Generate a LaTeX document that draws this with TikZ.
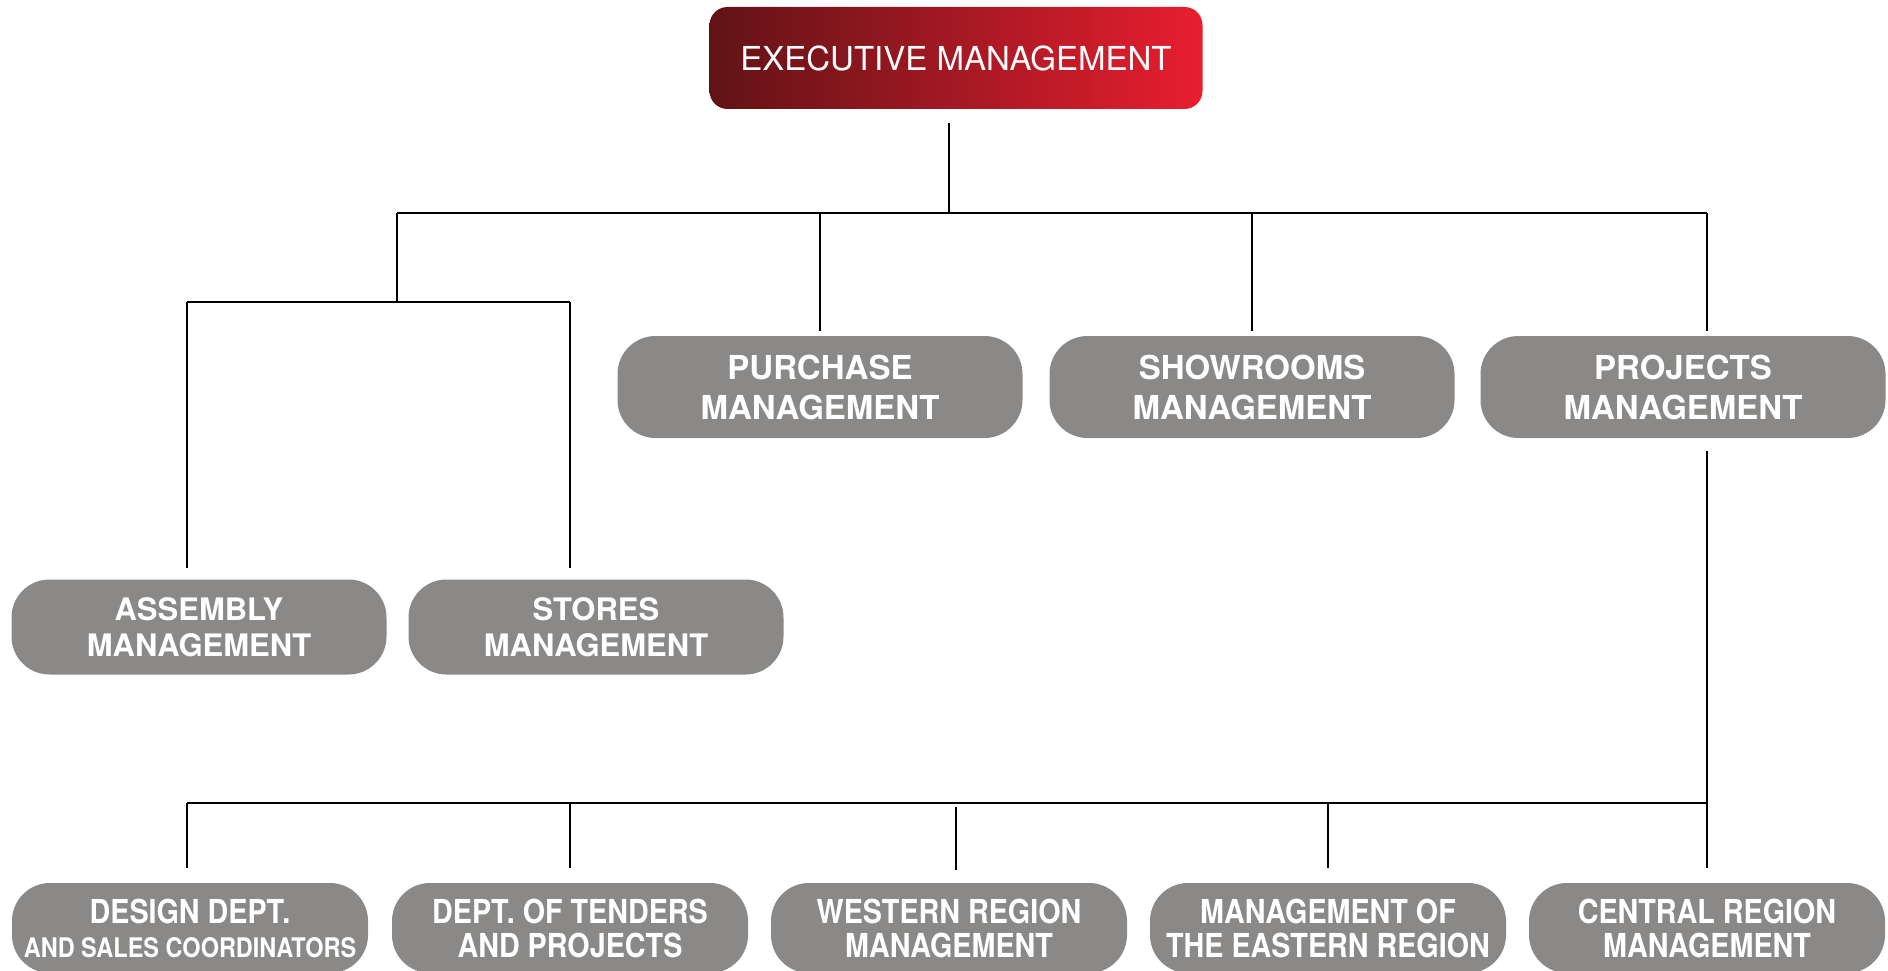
\documentclass[tikz,border=0pt]{standalone}
\usepackage{fontspec}
\setmainfont{TeX Gyre Heros}
\newfontfamily\condfont[FakeStretch=0.87]{TeX Gyre Heros}
\usepackage{tikz}
\definecolor{org_gray}{RGB}{138, 137, 135}
\definecolor{exec_dark}{RGB}{96, 19, 22}
\definecolor{exec_red}{RGB}{232, 30, 48}
\tikzstyle{ex}=[rectangle,rounded corners=18pt,left color=exec_dark,right color=exec_red,
  draw=none,text=white,inner sep=0pt,minimum width=493pt,minimum height=102pt,
  font=\fontsize{33}{40}\selectfont]
\tikzstyle{mg}=[rectangle,rounded corners=38pt,fill=org_gray,draw=none,text=white,
  inner sep=0pt,minimum width=405pt,minimum height=102pt,align=center,
  font=\fontsize{33}{40}\selectfont\bfseries]
\tikzstyle{sm}=[mg,minimum width=375pt,minimum height=95pt,
  font=\fontsize{31}{36}\selectfont\bfseries]
\tikzstyle{dp}=[mg,minimum width=356pt,minimum height=90pt,
  font=\condfont\fontsize{33}{34}\selectfont\bfseries]
\tikzstyle{none}=[inner sep=0pt,minimum size=0pt]
\tikzstyle{ln}=[line width=2.2pt,black]

\begin{document}
\begin{tikzpicture}[x=1pt, y=-1pt]
    \useasboundingbox (0, 0) rectangle (1888, 971);
    \node [style=ex] (0) at (956, 58) {EXECUTIVE MANAGEMENT};
    \node [style=mg] (1) at (820, 387) {PURCHASE\\MANAGEMENT};
    \node [style=mg] (2) at (1252, 387) {SHOWROOMS\\MANAGEMENT};
    \node [style=mg] (3) at (1683, 387) {PROJECTS\\MANAGEMENT};
    \node [style=sm] (4) at (199, 627) {ASSEMBLY\\MANAGEMENT};
    \node [style=sm] (5) at (596, 627) {STORES\\MANAGEMENT};
    \node [style=dp] (6) at (190, 928) {DESIGN DEPT.\\\fontsize{27}{31}\selectfont AND SALES COORDINATORS};
    \node [style=dp] (7) at (570, 928) {DEPT. OF TENDERS\\AND PROJECTS};
    \node [style=dp] (8) at (949, 928) {WESTERN REGION\\MANAGEMENT};
    \node [style=dp] (9) at (1328, 928) {MANAGEMENT OF\\THE EASTERN REGION};
    \node [style=dp] (10) at (1707, 928) {CENTRAL REGION\\MANAGEMENT};
    % junctions
    \node [style=none] (11) at (949, 123) {};
    \node [style=none] (12) at (949, 213) {};
    \node [style=none] (13) at (397, 213) {};
    \node [style=none] (14) at (1707, 213) {};
    \node [style=none] (15) at (820, 213) {};
    \node [style=none] (16) at (820, 331) {};
    \node [style=none] (17) at (1252, 213) {};
    \node [style=none] (18) at (1252, 331) {};
    \node [style=none] (19) at (1707, 331) {};
    \node [style=none] (20) at (397, 302) {};
    \node [style=none] (21) at (187, 302) {};
    \node [style=none] (22) at (570, 302) {};
    \node [style=none] (23) at (187, 568) {};
    \node [style=none] (24) at (570, 568) {};
    \node [style=none] (25) at (1707, 451) {};
    \node [style=none] (26) at (1707, 803) {};
    \node [style=none] (27) at (187, 803) {};
    \node [style=none] (28) at (187, 868) {};
    \node [style=none] (29) at (570, 803) {};
    \node [style=none] (30) at (570, 868) {};
    \node [style=none] (31) at (956, 807) {};
    \node [style=none] (32) at (956, 870) {};
    \node [style=none] (33) at (1328, 803) {};
    \node [style=none] (34) at (1328, 868) {};
    \node [style=none] (35) at (1707, 868) {};
    % top level
    \draw [style=ln] (11.center) to (12.center);
    \draw [style=ln] (13.center) to (14.center);
    \draw [style=ln] (15.center) to (16.center);
    \draw [style=ln] (17.center) to (18.center);
    \draw [style=ln] (14.center) to (19.center);
    \draw [style=ln] (13.center) to (20.center);
    \draw [style=ln] (21.center) to (22.center);
    \draw [style=ln] (21.center) to (23.center);
    \draw [style=ln] (22.center) to (24.center);
    % projects branch
    \draw [style=ln] (25.center) to (26.center);
    \draw [style=ln] (26.center) to (27.center);
    \draw [style=ln] (27.center) to (28.center);
    \draw [style=ln] (29.center) to (30.center);
    \draw [style=ln] (31.center) to (32.center);
    \draw [style=ln] (33.center) to (34.center);
    \draw [style=ln] (26.center) to (35.center);
\end{tikzpicture}
\end{document}
